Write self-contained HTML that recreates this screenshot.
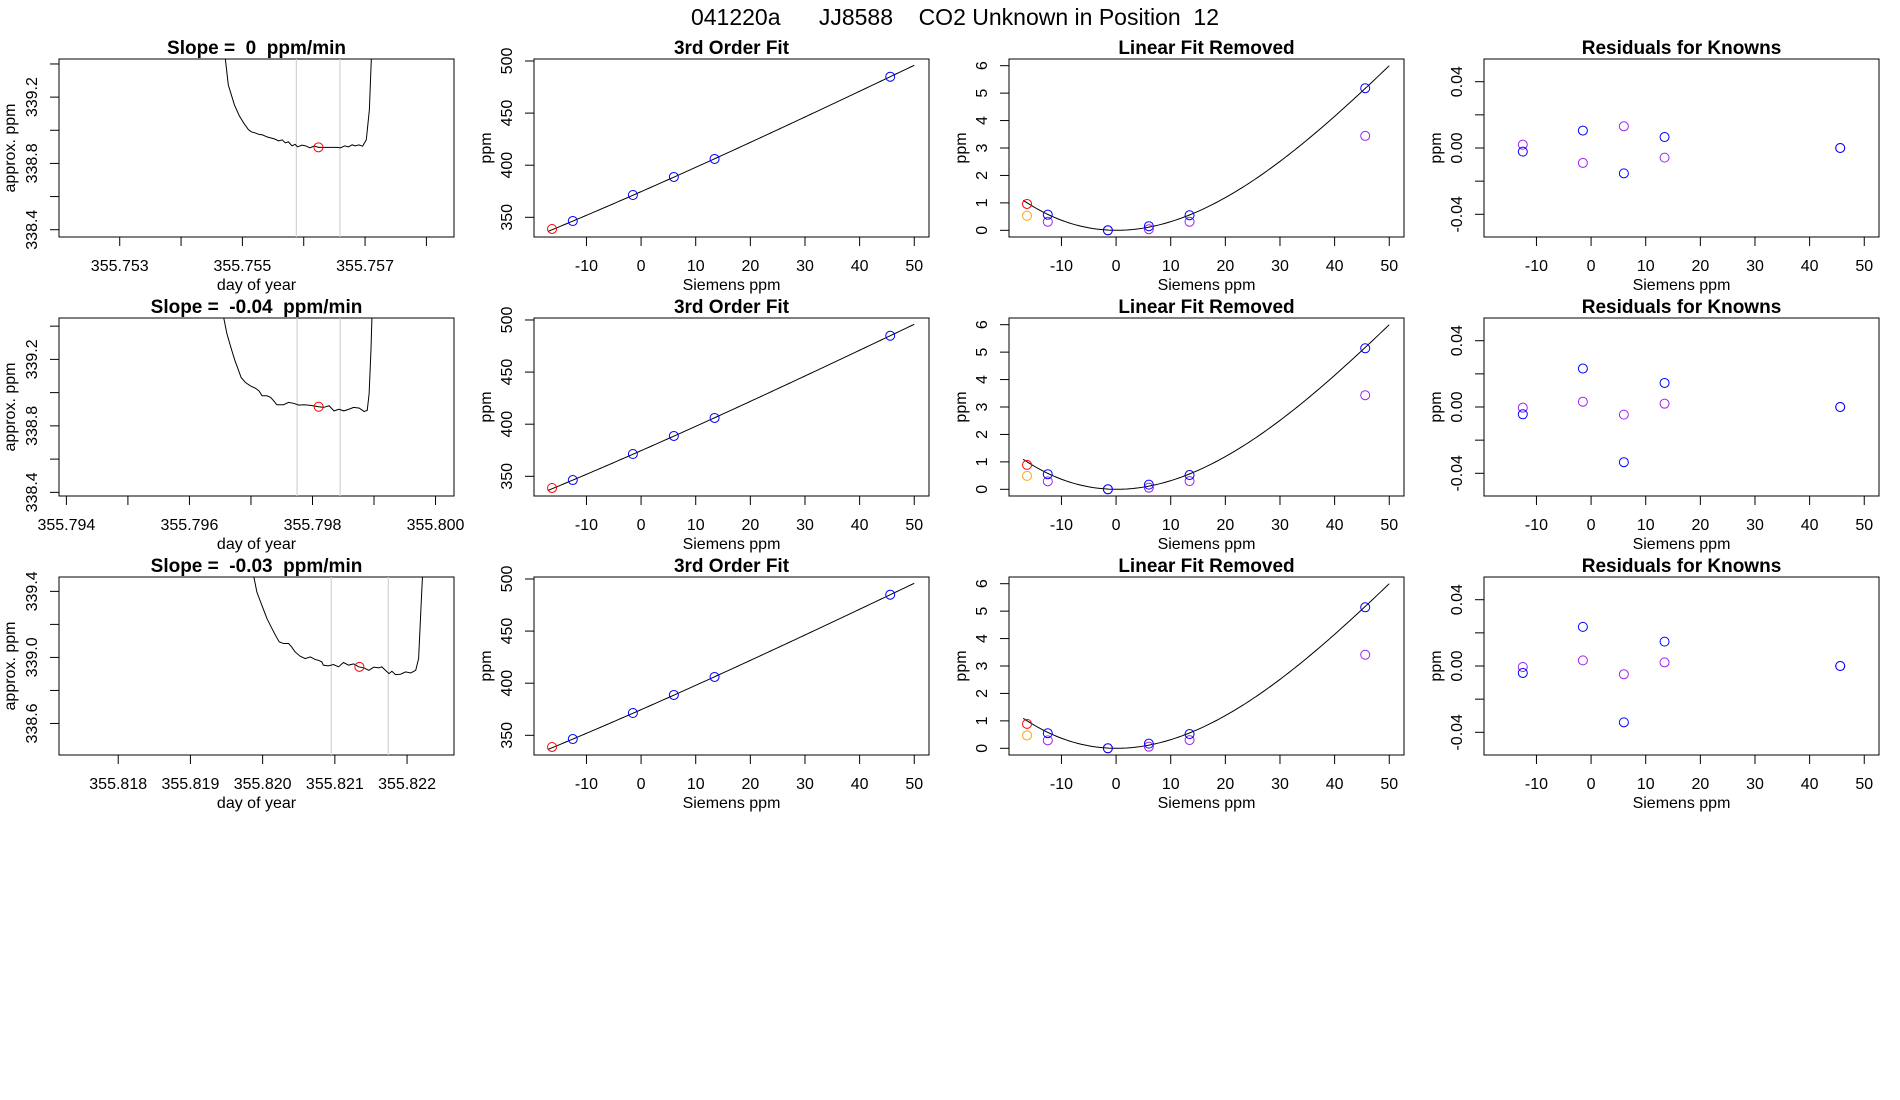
<!DOCTYPE html>
<html><head><meta charset="utf-8"><title>CO2 Unknown in Position 12</title>
<style>
html,body{margin:0;padding:0;background:#fff;}
svg{display:block;font-family:"Liberation Sans",Arial,sans-serif;}
svg text{white-space:pre;}
</style></head>
<body>
<svg id="chart" width="1900" height="1100" viewBox="0 0 1900 1100" xmlns="http://www.w3.org/2000/svg">
<rect x="0" y="0" width="1900" height="1100" fill="#fff"/>
<text x="955" y="25" font-size="23" text-anchor="middle" style="white-space:pre">041220a      JJ8588    CO2 Unknown in Position  12</text>
</svg>
<script>
// ---------- data ----------
const slopeTitles = ["Slope =  0  ppm/min", "Slope =  -0.04  ppm/min", "Slope =  -0.03  ppm/min"];
const trace1T = [355.75467,355.75477,355.75487,355.75495,355.75503,355.75510,355.75515,355.75521,355.75527,355.75533,355.75540,355.75546,355.75552,355.75559,355.75565,355.75570,355.75575,355.75581,355.75586,355.75590,355.75597,355.75603,355.75610,355.75617,355.75624,355.75630,355.75637,355.75643,355.75650,355.75655,355.75660,355.75667,355.75673,355.75679,355.75684,355.75690,355.75696,355.75702,355.75707,355.75712];
const trace1P = [339.600,339.274,339.153,339.087,339.039,339.003,338.990,338.984,338.975,338.972,338.960,338.954,338.948,338.936,338.942,338.924,338.930,338.906,338.915,338.900,338.910,338.906,338.894,338.905,338.897,338.897,338.897,338.897,338.897,338.897,338.894,338.906,338.900,338.912,338.906,338.912,338.904,338.942,339.123,339.600];
const trace2T = [355.79653,355.79661,355.79669,355.79674,355.79680,355.79684,355.79691,355.79699,355.79707,355.79713,355.79718,355.79726,355.79732,355.79737,355.79742,355.79753,355.79761,355.79770,355.79778,355.79786,355.79797,355.79810,355.79818,355.79827,355.79835,355.79843,355.79851,355.79859,355.79867,355.79876,355.79884,355.79889,355.79892,355.79895,355.79897];
const trace2P = [339.500,339.353,339.252,339.192,339.132,339.091,339.061,339.041,339.027,339.011,338.981,338.981,338.971,338.951,338.927,338.927,338.941,338.935,338.925,338.927,338.923,338.915,338.911,338.921,338.890,338.900,338.890,338.900,338.911,338.907,338.886,338.894,338.991,339.252,339.500];
const trace3T = [355.81985,355.81992,355.81999,355.82006,355.82013,355.82019,355.82023,355.82029,355.82036,355.82040,355.82045,355.82052,355.82059,355.82066,355.82073,355.82077,355.82082,355.82084,355.82091,355.82098,355.82105,355.82112,355.82119,355.82126,355.82133,355.82140,355.82147,355.82154,355.82161,355.82165,355.82170,355.82175,355.82179,355.82184,355.82191,355.82198,355.82205,355.82212,355.82216,355.82219,355.82222];
const trace3P = [339.550,339.396,339.315,339.235,339.174,339.124,339.094,339.084,339.084,339.064,339.033,339.007,338.993,339.003,338.987,338.983,338.973,338.953,338.949,338.957,338.943,338.969,338.953,338.961,338.943,338.937,338.922,338.941,338.937,338.943,338.922,338.902,338.916,338.896,338.898,338.912,338.906,338.922,338.993,339.275,339.550];
const windowStart = [355.75588, 355.79775, 355.82095];
const windowEnd = [355.75659, 355.79845, 355.82174];
const unknownTime = [355.75624, 355.79810, 355.82134];
const unknownTracePpm = [338.897, 338.915, 338.943];
const xDomainTrace = [[355.75201,355.75845],[355.79388,355.80030],[355.81718,355.82265]];
const yDomainTrace = [[338.356,339.43],[338.378,339.449],[338.409,339.487]];
const traceXTicks = [[355.753,355.754,355.755,355.756,355.757,355.758],[355.794,355.795,355.796,355.797,355.798,355.799,355.800],[355.818,355.819,355.820,355.821,355.822]];
const traceXLabels = [["355.753","","355.755","","355.757",""],["355.794","","355.796","","355.798","","355.800"],["355.818","355.819","355.820","355.821","355.822"]];
const traceYTicks = [[338.4,338.6,338.8,339.0,339.2,339.4],[338.4,338.6,338.8,339.0,339.2,339.4],[338.6,338.8,339.0,339.2,339.4]];
const traceYLabels = [["338.4","","338.8","","339.2",""],["338.4","","338.8","","339.2",""],["338.6","","339.0","","339.4"]];
const knownX = [-12.5, -1.5, 6.0, 13.45, 45.6];
const knownPpm = [346.4, 371.4, 388.7, 406.0, 484.9];
const unknownX = -16.3;
const unknownPpm = 338.8;
const linearCoef = [374.6, 2.305];
const curveCoef = [0, -0.00063, 0.003411, -0.00001997];
const curveRange = [-17.0, 50.0];
const fitXTicks = [-10,0,10,20,30,40,50];
const fitYTicks = [350,400,450,500];
const linRemYTicks = [0,1,2,3,4,5,6];
const residYTicks = [-0.04,-0.02,0,0.02,0.04];
const residYLabels = ["-0.04","","0.00","","0.04"];
const linRemBlue = [[0.57,0.0,0.15,0.55,5.18],[0.55,0.0,0.17,0.52,5.14],[0.55,0.0,0.17,0.52,5.14]];
const linRemPurple = [[0.31,0.0,0.04,0.31,3.44],[0.29,0.0,0.06,0.30,3.43],[0.29,0.0,0.06,0.30,3.41]];
const linRemRed = [0.96, 0.89, 0.89];
const linRemOrange = [0.53, 0.49, 0.47];
const residBlue = [[-0.0022,0.0105,-0.0153,0.0066,0.0],[-0.0044,0.0232,-0.0333,0.0145,0.0],[-0.0042,0.0236,-0.034,0.0147,0.0]];
const residPurple = [[0.002,-0.009,0.0131,-0.0058,0.0],[-0.0004,0.0032,-0.0046,0.002,0.0],[-0.0006,0.0034,-0.005,0.0022,0.0]];

// ---------- drawing ----------
const NS = "http://www.w3.org/2000/svg";
const svg = document.getElementById("chart");
const rowTop = [59, 318, 577];
const colLeft = [59, 534, 1009, 1484];
const BW = 395, BH = 178;
const FIT_X = [-19.6, 52.7];
const FIT_Y = [331.1, 501.9];
const LR_Y = [-0.244, 6.244];
const RES_Y = [-0.0537, 0.0537];

function mk(tag, attrs, parent) {
  const e = document.createElementNS(NS, tag);
  for (const k in attrs) e.setAttribute(k, attrs[k]);
  (parent || svg).appendChild(e);
  return e;
}
function scale(d, r) { return v => r[0] + (v - d[0]) / (d[1] - d[0]) * (r[1] - r[0]); }
function poly(c, x) { return c[0] + c[1]*x + c[2]*x*x + c[3]*x*x*x; }

function panel(name, L, T, xd, yd, xticks, xlabels, yticks, ylabels, title, xtitle, ytitle, ytOff, ylOff) {
  const g = mk("g", {});
  
  
  const sx = scale(xd, [L, L + BW]);
  const sy = scale(yd, [T + BH, T]);
  const box = mk("rect", {x: L, y: T, width: BW, height: BH, fill: "none", stroke: "#000", "stroke-width": 1}, g);
  
  
  const tt = mk("text", {x: L + BW/2, y: T - 5, "font-size": 19, "font-weight": "bold", "text-anchor": "middle", style: "white-space:pre"}, g);
  tt.textContent = title;
  
  
  const xa = mk("g", {}, g);
  
  
  mk("line", {x1: sx(xticks[0]), x2: sx(xticks[xticks.length-1]), y1: T+BH, y2: T+BH, stroke: "#000"}, xa);
  xticks.forEach((v, i) => {
    const x = sx(v);
    mk("line", {x1: x, x2: x, y1: T+BH, y2: T+BH+9, stroke: "#000"}, xa);
    if (xlabels[i]) {
      const t = mk("text", {x: x, y: T+BH+34, "font-size": 16, "text-anchor": "middle"}, xa);
      t.textContent = xlabels[i];
      
      
    }
  });
  const xt = mk("text", {x: L + BW/2, y: T+BH+53, "font-size": 16, "text-anchor": "middle"}, g);
  xt.textContent = xtitle;
  
  
  const ya = mk("g", {}, g);
  
  
  mk("line", {x1: L, x2: L, y1: sy(yticks[0]), y2: sy(yticks[yticks.length-1]), stroke: "#000"}, ya);
  yticks.forEach((v, i) => {
    const y = sy(v);
    mk("line", {x1: L-9, x2: L, y1: y, y2: y, stroke: "#000"}, ya);
    if (ylabels[i]) {
      const t = mk("text", {x: 0, y: 0, "font-size": 16, "text-anchor": "middle", transform: `translate(${L-ytOff},${y}) rotate(-90)`}, ya);
      t.textContent = ylabels[i];
      
      
    }
  });
  const yt = mk("text", {x: 0, y: 0, "font-size": 16, "text-anchor": "middle", transform: `translate(${L-ylOff},${T+BH/2}) rotate(-90)`}, g);
  yt.textContent = ytitle;
  
  
  const clipId = "clip" + Math.round(L) + "_" + Math.round(T);
  const cp = mk("clipPath", {id: clipId}, g);
  mk("rect", {x: L, y: T, width: BW, height: BH}, cp);
  const plot = mk("g", {"clip-path": `url(#${clipId})`}, g);
  return {sx, sy, plot};
}
function circle(p, x, y, color, name) {
  const c = mk("circle", {cx: x, cy: y, r: 4.5, fill: "none", stroke: color, "stroke-width": 1}, p);
  
  
  return c;
}
function fitCurvePath(sx, sy, withLinear) {
  let d = "";
  const n = 120;
  for (let i = 0; i <= n; i++) {
    const x = curveRange[0] + (curveRange[1] - curveRange[0]) * i / n;
    let y = poly(curveCoef, x);
    if (withLinear) y += linearCoef[0] + linearCoef[1] * x;
    d += (i ? "L" : "M") + sx(x).toFixed(2) + "," + sy(y).toFixed(2);
  }
  return d;
}

const traces = [[trace1T, trace1P], [trace2T, trace2P], [trace3T, trace3P]];
for (let r = 0; r < 3; r++) {
  const T = rowTop[r];
  const a = panel("trace-panel-row" + (r+1), colLeft[0], T, xDomainTrace[r], yDomainTrace[r], traceXTicks[r], traceXLabels[r], traceYTicks[r], traceYLabels[r], slopeTitles[r], "day of year", "approx. ppm", 22, 44);
  [windowStart[r], windowEnd[r]].forEach(v => {
    const l = mk("line", {x1: a.sx(v), x2: a.sx(v), y1: T, y2: T+BH, stroke: "#d3d3d3", "stroke-width": 1.2}, a.plot);
    
    
  });
  const [tt, pp] = traces[r];
  const d = tt.map((t, i) => (i ? "L" : "M") + a.sx(t).toFixed(2) + "," + a.sy(pp[i]).toFixed(2)).join("");
  const tl = mk("path", {d: d, fill: "none", stroke: "#000", "stroke-width": 1}, a.plot);
  
  
  circle(a.plot, a.sx(unknownTime[r]), a.sy(unknownTracePpm[r]), "#ff0000", "unknown-mean-point");

  const b = panel("third-order-fit-row" + (r+1), colLeft[1], T, FIT_X, FIT_Y, fitXTicks, fitXTicks.map(String), fitYTicks, fitYTicks.map(String), "3rd Order Fit", "Siemens ppm", "ppm", 22, 43);
  const fl = mk("path", {d: fitCurvePath(b.sx, b.sy, true), fill: "none", stroke: "#000", "stroke-width": 1}, b.plot);
  
  
  knownX.forEach((x, i) => circle(b.plot, b.sx(x), b.sy(knownPpm[i]), "#0000ff", "known-standard-point"));
  circle(b.plot, b.sx(unknownX), b.sy(unknownPpm), "#ff0000", "unknown-point");

  const c = panel("linear-fit-removed-row" + (r+1), colLeft[2], T, FIT_X, LR_Y, fitXTicks, fitXTicks.map(String), linRemYTicks, linRemYTicks.map(String), "Linear Fit Removed", "Siemens ppm", "ppm", 22, 43);
  const cl = mk("path", {d: fitCurvePath(c.sx, c.sy, false), fill: "none", stroke: "#000", "stroke-width": 1}, c.plot);
  
  
  knownX.forEach((x, i) => circle(c.plot, c.sx(x), c.sy(linRemPurple[r][i]), "#a020f0", "known-purple-point"));
  knownX.forEach((x, i) => circle(c.plot, c.sx(x), c.sy(linRemBlue[r][i]), "#0000ff", "known-blue-point"));
  circle(c.plot, c.sx(unknownX), c.sy(linRemOrange[r]), "#ffa500", "unknown-orange-point");
  circle(c.plot, c.sx(unknownX), c.sy(linRemRed[r]), "#ff0000", "unknown-red-point");

  const e = panel("residuals-row" + (r+1), colLeft[3], T, FIT_X, RES_Y, fitXTicks, fitXTicks.map(String), residYTicks, residYLabels, "Residuals for Knowns", "Siemens ppm", "ppm", 22, 43);
  knownX.forEach((x, i) => circle(e.plot, e.sx(x), e.sy(residPurple[r][i]), "#a020f0", "residual-purple-point"));
  knownX.forEach((x, i) => circle(e.plot, e.sx(x), e.sy(residBlue[r][i]), "#0000ff", "residual-blue-point"));
}
</script>
</body></html>
